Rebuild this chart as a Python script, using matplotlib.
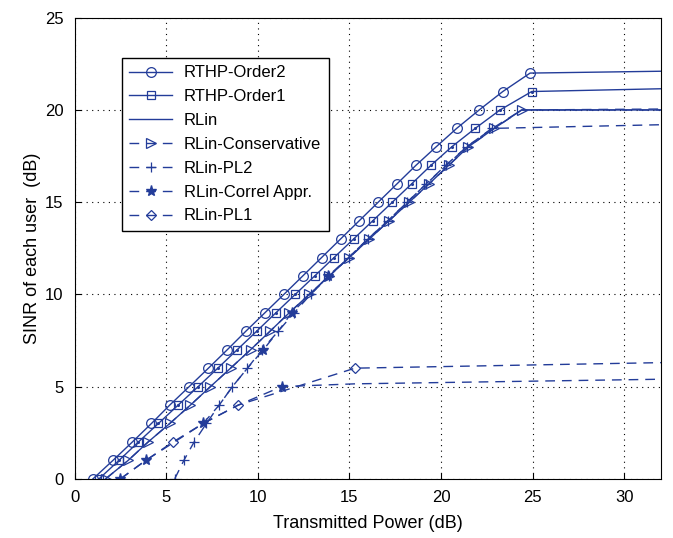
import matplotlib
matplotlib.use("Agg")
import matplotlib.pyplot as plt

plt.rcParams['font.family'] = ['Liberation Sans', 'DejaVu Sans']

# RTHP-Order2 (circles)
o2_x = [1.0, 2.09, 3.15, 4.19, 5.19, 6.25, 7.3, 8.33, 9.34, 10.38, 11.42,
        12.45, 13.48, 14.51, 15.54, 16.57, 17.6, 18.63, 19.73, 20.85, 22.08,
        23.37, 24.86, 32]
o2_y = list(range(0, 23)) + [22.1]

# RTHP-Order1 (squares)
o1_x = [1.33, 2.42, 3.48, 4.57, 5.65, 6.74, 7.81, 8.87, 9.93, 10.98, 12.04,
        13.1, 14.16, 15.22, 16.28, 17.34, 18.4, 19.45, 20.58, 21.86, 23.22,
        24.95, 32]
o1_y = list(range(0, 22)) + [21.15]

# RLin and RLin-Conservative (triangles)
cons_x = [1.69, 2.92, 4.01, 5.19, 6.32, 7.41, 8.51, 9.6, 10.66, 11.71, 12.8,
          13.9, 14.99, 16.08, 17.17, 18.26, 19.35, 20.42, 21.49, 22.9, 24.4, 32]
cons_y = list(range(0, 21)) + [20.05]
rlin_x = cons_x
rlin_y = list(range(0, 21)) + [20.0]

# RLin-PL2 (plus)
pl2_x = [5.46, 5.96, 6.52, 7.19, 7.89, 8.61, 9.43, 10.22, 11.11, 11.98, 12.88,
         13.9, 14.95, 16.0, 17.1, 18.15, 19.2, 20.25, 21.4, 22.77, 32]
pl2_y = list(range(0, 20)) + [19.2]

# RLin-Correl Appr. (stars), low and high user
cor_x = [2.5, 3.88, 5.45, 7.01, 8.93, 11.3, 15.3, 32]
cor_y = [0, 1, 2, 3, 4, 5, 5.15, 5.4]
corh_x = [7.01, 7.89, 8.61, 9.43, 10.3, 11.11, 11.84, 12.88, 13.84, 14.95,
          16.0, 17.1, 18.15, 19.2, 20.3, 21.4, 22.8, 24.4, 32]
corh_y = list(range(3, 21)) + [20.0]

# RLin-PL1 (diamonds)
pl1_x = [2.5, 3.88, 5.37, 7.01, 8.93, 15.3, 32]
pl1_y = [0, 1, 2, 3, 4, 6, 6.3]

col = '#233c99'
dash = (0, (7, 5))

fig = plt.figure(figsize=(6.73, 5.38), dpi=100)
ax = fig.add_axes([0.111, 0.110, 0.871, 0.857])

base = dict(color=col, lw=1.0, markerfacecolor='none', markeredgewidth=0.9)
ax.plot(o2_x, o2_y, '-', marker='o', markersize=7, markevery=list(range(23)),
        label='RTHP-Order2', **base)
ax.plot(o1_x, o1_y, '-', marker='s', markersize=5.5, markevery=list(range(22)),
        label='RTHP-Order1', **base)
ax.plot(o1_x[:22], o1_y[:22], ' ', marker='.', markersize=2.5, color=col)
ax.plot(rlin_x, rlin_y, '-', color=col, lw=1.0, label='RLin')
ax.plot(cons_x, cons_y, linestyle=dash, marker='>', markersize=7,
        markevery=list(range(21)), label='RLin-Conservative', **base)
ax.plot(pl2_x, pl2_y, linestyle=dash, marker='+', markersize=7,
        markevery=list(range(20)), label='RLin-PL2', **base)
ax.plot(cor_x, cor_y, linestyle=dash, marker='*', markersize=8, markevery=[0, 1, 3, 5],
        label='RLin-Correl Appr.', color=col, lw=1.0, markerfacecolor=col)
ax.plot(pl1_x, pl1_y, linestyle=dash, marker='D', markersize=5.5, markevery=[2, 4, 5],
        label='RLin-PL1', **base)
ax.plot(corh_x, corh_y, linestyle=dash, marker='*', markersize=8, markevery=[4, 6, 8],
        color=col, lw=1.0, markerfacecolor=col)

ax.set_xlim(0, 32)
ax.set_ylim(0, 25)
ax.set_xticks([0, 5, 10, 15, 20, 25, 30])
ax.set_yticks([0, 5, 10, 15, 20, 25])
ax.tick_params(labelsize=12, direction='in', length=4, pad=8)
ax.grid(True, linestyle=(0, (1, 4)), color='black', linewidth=0.8)
ax.set_xlabel('Transmitted Power (dB)', fontsize=13, labelpad=7)
ax.set_ylabel('SINR of each user  (dB)', fontsize=13, labelpad=3)

leg = ax.legend(loc='upper left', bbox_to_anchor=(0.080, 0.913), borderaxespad=0,
                fontsize=12, fancybox=False, framealpha=1, edgecolor='black',
                handlelength=2.6, handletextpad=0.7, labelspacing=0.53, borderpad=0.45)
leg.get_frame().set_linewidth(1.0)

fig.savefig('out.png', dpi=100)
